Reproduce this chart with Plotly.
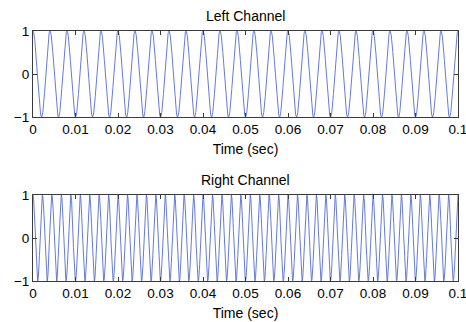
import numpy as np
import plotly.graph_objects as go
from plotly.subplots import make_subplots

# Signal parameters
left_freq_hz = 250      # 25 cycles in 0.1 s
right_freq_hz = 450     # 45 cycles in 0.1 s
amplitude = 1.0
duration_s = 0.1
sample_rate = 44100

x_tick_vals = [0, 0.01, 0.02, 0.03, 0.04, 0.05, 0.06, 0.07, 0.08, 0.09, 0.1]
x_tick_text = ["0", "0.01", "0.02", "0.03", "0.04", "0.05", "0.06", "0.07", "0.08", "0.09", "0.1"]
y_tick_vals = [-1, 0, 1]
y_tick_text = ["\u22121", "0", "1"]
titles = ["Left Channel", "Right Channel"]
x_title = "Time (sec)"

t = np.arange(0, int(duration_s * sample_rate) + 1) / sample_rate
left = amplitude * np.cos(2 * np.pi * left_freq_hz * t)
right = amplitude * np.cos(2 * np.pi * right_freq_hz * t)

fig = make_subplots(rows=2, cols=1, vertical_spacing=0.312)
line_style = dict(color="rgb(84,108,208)", width=0.9)
fig.add_trace(go.Scatter(x=t, y=left, mode="lines", line=line_style, showlegend=False), row=1, col=1)
fig.add_trace(go.Scatter(x=t, y=right, mode="lines", line=line_style, showlegend=False), row=2, col=1)

font = dict(family="Liberation Sans, Arial, sans-serif", size=14, color="black")
tick_font = dict(family="Liberation Sans, Arial, sans-serif", size=13.5, color="black")
axis_common = dict(showline=True, linecolor="#3a3a3a", linewidth=1, mirror="ticks",
                   ticks="inside", ticklen=4, tickcolor="#3a3a3a", showgrid=False,
                   zeroline=False, tickfont=tick_font, automargin=False,
                   ticklabeloverflow="allow")

for r in (1, 2):
    fig.update_xaxes(range=[0, duration_s], tickvals=x_tick_vals, ticktext=x_tick_text,
                     title=dict(text=x_title, font=font, standoff=7), row=r, col=1, **axis_common)
    fig.update_yaxes(range=[-1, 1], tickvals=y_tick_vals, ticktext=y_tick_text,
                     row=r, col=1, **axis_common)

fig.update_layout(
    width=466, height=322,
    margin=dict(l=33, r=8, t=31, b=41),
    paper_bgcolor="white", plot_bgcolor="white",
    font=font,
)
fig.layout.yaxis.domain = [0.656, 1.0]
fig.layout.yaxis2.domain = [0.0, 0.344]

fig.add_annotation(text=titles[0], x=0.5, xref="paper", y=1.0, yref="paper",
                   yanchor="bottom", yshift=5, showarrow=False, font=font)
fig.add_annotation(text=titles[1], x=0.5, xref="paper", y=0.344, yref="paper",
                   yanchor="bottom", yshift=5, showarrow=False, font=font)

fig.write_html("out.html")
